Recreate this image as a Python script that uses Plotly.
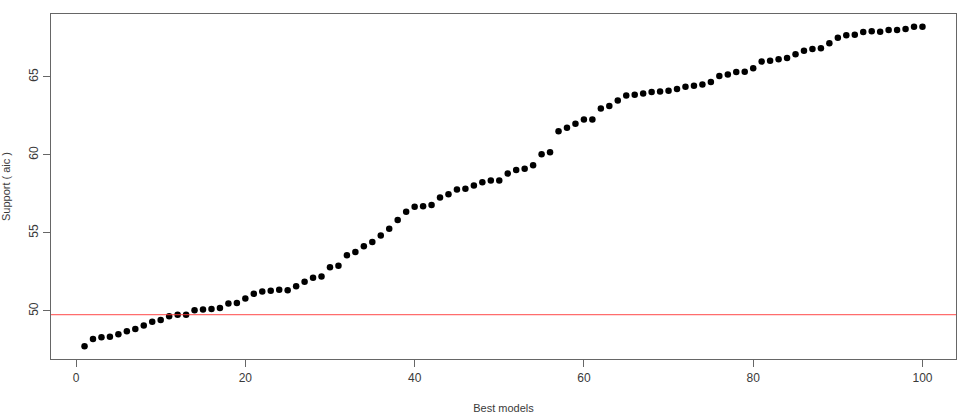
import plotly.graph_objects as go

models = list(range(1, 101))
support = [
    47.74, 48.20, 48.31, 48.35, 48.50, 48.70, 48.85, 49.06, 49.30, 49.42,
    49.66, 49.76, 49.76, 50.04, 50.09, 50.13, 50.19, 50.47, 50.51, 50.80,
    51.10, 51.24, 51.30, 51.35, 51.33, 51.58, 51.87, 52.13, 52.20, 52.80,
    52.90, 53.57, 53.78, 54.15, 54.42, 54.83, 55.26, 55.83, 56.35, 56.67,
    56.71, 56.78, 57.26, 57.48, 57.78, 57.82, 58.03, 58.25, 58.36, 58.36,
    58.80, 59.02, 59.10, 59.33, 60.04, 60.17, 61.51, 61.73, 61.99, 62.26,
    62.26, 62.97, 63.12, 63.48, 63.80, 63.85, 63.93, 64.02, 64.06, 64.10,
    64.21, 64.36, 64.42, 64.50, 64.66, 65.05, 65.15, 65.30, 65.32, 65.54,
    65.97, 66.03, 66.12, 66.20, 66.44, 66.67, 66.78, 66.83, 67.15, 67.49,
    67.66, 67.69, 67.86, 67.92, 67.88, 67.99, 67.99, 68.06, 68.20, 68.20,
]
threshold = 49.76
x_ticks = [0, 20, 40, 60, 80, 100]
y_ticks = [50, 55, 60, 65]

def padded(lo, hi):
    r = hi - lo
    return [lo - 0.04 * r, hi + 0.04 * r]

TXT = "#3a3a3a"
fig = go.Figure()
fig.add_trace(go.Scatter(
    x=models, y=support, mode="markers",
    marker=dict(color="black", size=6.5, line=dict(width=0)),
    showlegend=False,
))
fig.add_shape(type="line", xref="paper", x0=0, x1=1, yref="y", y0=threshold, y1=threshold,
              line=dict(color="rgba(255,60,60,0.75)", width=1.2))

fig.update_layout(
    template="none",
    width=968, height=414,
    margin=dict(l=51, r=12, t=14, b=55),
    plot_bgcolor="white", paper_bgcolor="white",
    font=dict(family="Liberation Sans, Arial, sans-serif", size=12, color=TXT),
)
axis_common = dict(
    automargin=False, showgrid=False, zeroline=False, showline=True, mirror=True,
    linecolor="#666", linewidth=1.2, ticks="outside", ticklen=7, tickwidth=1.2, tickcolor="#666",
    tickfont=dict(color=TXT, size=12),
)
fig.update_xaxes(
    range=padded(min(models), max(models)), tickvals=x_ticks,
    title=dict(text="Best models", standoff=20, font=dict(size=11, color=TXT)),
    **axis_common,
)
fig.update_yaxes(
    range=padded(min(support), max(support)), tickvals=y_ticks, tickangle=-90,
    title=dict(text="Support ( aic )", standoff=16, font=dict(size=11, color=TXT)),
    **axis_common,
)
fig.write_html("out.html")
